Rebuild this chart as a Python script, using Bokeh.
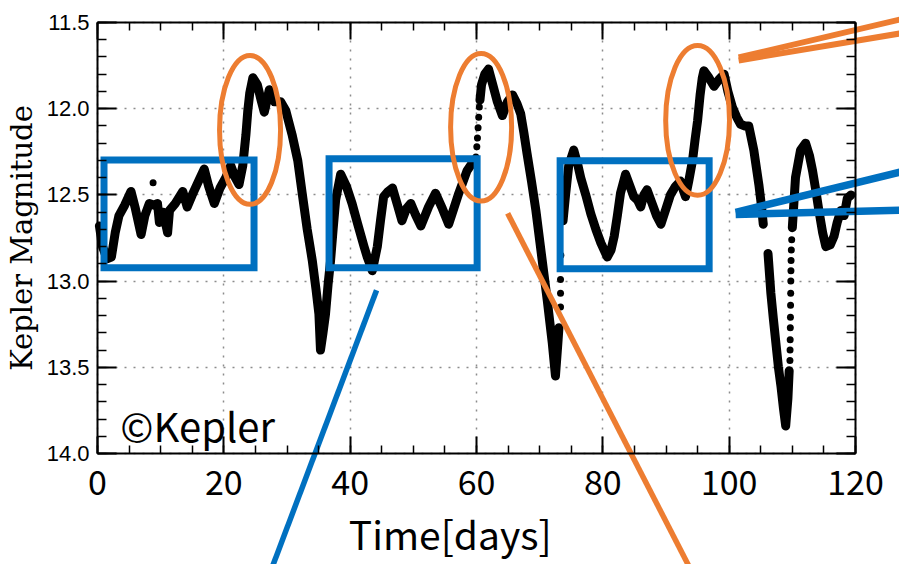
from bokeh.plotting import figure
from bokeh.models import (Range1d, FixedTicker, LinearAxis, Label, Grid, PrintfTickFormatter,
                          CustomJSTickFormatter)
from bokeh.embed import file_html
from bokeh.resources import INLINE

NAN = float("nan")

# ---- light curve (days, Kepler magnitude) ----
seg1_t = [0.3, 0.8, 1.5, 2.2, 2.8, 3.4, 4.3, 5.3, 6.0, 6.9, 7.5, 8.2, 9.0, 9.5, 9.8, 10.4, 11.1, 11.4,
          12.3, 13.5, 14.2, 15.0, 16.0, 16.9, 17.6, 18.5, 19.4, 20.3, 21.1, 21.8, 22.4, 23.0, 23.5,
          23.8, 24.1, 24.6, 25.3, 25.9, 26.4, 27.2, 28.0, 29.0, 29.8, 30.8, 31.7, 32.4, 33.2, 34.0,
          34.6, 35.05, 35.3, 35.7, 36.1, 36.5, 36.9, 37.3, 37.7, 38.5, 39.4, 40.3, 41.2, 42.2, 42.7,
          43.5, 44.3, 44.8, 45.3, 46.0, 46.7, 47.5, 48.2, 48.9, 49.6, 50.4, 51.2, 52.4, 53.5, 54.6,
          55.6, 56.4, 57.2, 58.5, 59.6]
seg1_m = [12.68, 12.80, 12.87, 12.86, 12.72, 12.62, 12.56, 12.48, 12.58, 12.73, 12.62, 12.55, 12.56,
          12.55, 12.66, 12.60, 12.72, 12.59, 12.55, 12.48, 12.57, 12.50, 12.42, 12.35, 12.45, 12.55,
          12.46, 12.40, 12.33, 12.40, 12.44, 12.33, 12.15, 12.01, 11.91, 11.82, 11.86, 11.95, 12.02,
          11.89, 11.96, 11.96, 12.01, 12.15, 12.30, 12.49, 12.70, 12.88, 13.05, 13.19, 13.40, 13.30,
          13.19, 13.02, 12.88, 12.70, 12.53, 12.38, 12.45, 12.55, 12.67, 12.80, 12.86, 12.94, 12.80,
          12.65, 12.51, 12.48, 12.46, 12.56, 12.65, 12.58, 12.55, 12.62, 12.68, 12.57, 12.49, 12.58,
          12.67, 12.58, 12.49, 12.36, 12.30]
seg2_t = [60.55, 60.8, 61.3, 61.9, 62.5, 63.3, 64.1, 64.9, 65.7, 66.4, 67.0, 67.5, 68.0, 68.7, 69.4,
          70.4, 71.2, 72.0, 72.5, 72.9, 73.05]
seg2_m = [11.95, 11.86, 11.80, 11.77, 11.85, 11.96, 12.04, 11.96, 11.92, 11.97, 12.03, 12.14, 12.26,
          12.42, 12.59, 12.88, 13.11, 13.36, 13.55, 13.35, 13.27]
seg3_t = [73.7, 74.1, 74.6, 75.4, 76.0, 76.5, 77.3, 78.1, 78.9, 79.7, 80.7, 81.3, 81.8, 82.3, 82.8,
          83.6, 84.3, 84.9, 85.5, 86.0, 86.5, 87.0, 87.8, 88.5, 89.2, 90.0, 90.7, 91.5, 92.3, 92.8,
          93.1, 93.6, 94.2, 94.6, 95.0, 95.4, 95.75, 96.0, 96.8, 97.6, 98.4, 99.2, 99.8, 100.5,
          101.2, 101.8, 102.5, 103.1, 103.5, 103.9, 104.3, 104.7, 105.1, 105.4]
seg3_m = [12.65, 12.50, 12.33, 12.24, 12.32, 12.40, 12.50, 12.61, 12.70, 12.78, 12.86, 12.82, 12.74,
          12.62, 12.49, 12.38, 12.45, 12.51, 12.53, 12.57, 12.50, 12.47, 12.55, 12.62, 12.67, 12.58,
          12.50, 12.45, 12.42, 12.48, 12.51, 12.42, 12.30, 12.18, 12.07, 11.92, 11.82, 11.78, 11.82,
          11.87, 11.83, 11.80, 11.90, 11.99, 12.05, 12.09, 12.10, 12.10, 12.17, 12.24, 12.34, 12.44,
          12.56, 12.67]
seg4_t = [106.15, 106.6, 107.0, 107.4, 107.8, 108.2, 108.6, 108.95, 109.3, 109.5]
seg4_m = [12.84, 13.07, 13.22, 13.36, 13.50, 13.61, 13.74, 13.84, 13.68, 13.52]
seg5_t = [110.0, 110.5, 111.3, 112.1, 112.7, 113.2, 113.7, 114.2, 114.8, 115.3, 116.0, 116.6, 117.1,
          117.7, 118.2, 118.7, 119.3]
seg5_m = [12.69, 12.40, 12.24, 12.20, 12.27, 12.36, 12.47, 12.59, 12.72, 12.80, 12.79, 12.74, 12.66,
          12.59, 12.62, 12.52, 12.50]

# sparse single points (isolated dots)
dots_t = [8.8, 59.9, 60.05, 60.15, 60.25, 60.35, 60.45, 73.3, 73.3, 73.3, 73.35,
          109.62, 109.64, 109.66, 109.68, 109.7, 109.72, 109.74, 109.76, 109.78, 109.8, 109.84, 109.9]
dots_m = [12.43, 12.28, 12.22, 12.17, 12.11, 12.05, 11.99, 13.15, 13.07, 12.99, 12.85,
          13.46, 13.40, 13.34, 13.27, 13.21, 13.14, 13.07, 13.00, 12.94, 12.88, 12.82, 12.76]

# ---- axes ----
x_lim = (0, 120)
y_lim = (11.5, 14.0)
x_major = [0, 20, 40, 60, 80, 100, 120]
x_minor = [0, 5, 10, 15, 20, 25, 30, 35, 40, 45, 50, 55, 60, 65, 70, 75, 80, 85, 90, 95, 100, 105,
           110, 115, 120]
y_major = [11.5, 12.0, 12.5, 13.0, 13.5, 14.0]
y_minor = [11.5, 11.6, 11.7, 11.8, 11.9, 12.0, 12.1, 12.2, 12.3, 12.4, 12.5, 12.6, 12.7, 12.8, 12.9,
           13.0, 13.1, 13.2, 13.3, 13.4, 13.5, 13.6, 13.7, 13.8, 13.9, 14.0]
x_title = "Time[days]"
y_title = "Kepler Magnitude"
credit = "©Kepler"

# ---- overlay annotations (data coordinates) ----
box_left = [1.03, 36.66, 73.24]
box_right = [24.78, 60.1, 96.83]
box_top = [12.297, 12.291, 12.302]
box_bottom = [12.922, 12.922, 12.928]

ell_x = [24.15, 60.73, 95.0]
ell_y = [12.123, 12.108, 12.068]
ell_w = [9.66, 9.66, 10.1]
ell_h = [0.863, 0.857, 0.869]

BLUE = "#0070C0"
ORANGE = "#ED7D31"
call_x0 = [44.18, 64.93, 101.5, 101.5, 101.03, 101.03]
call_y0 = [13.053, 12.607, 11.703, 11.72, 12.601, 12.613]
call_x1 = [26.9, 94.74, 128.74, 128.74, 128.74, 128.74]
call_y1 = [14.733, 14.733, 11.468, 11.553, 12.353, 12.587]
call_col = [BLUE, ORANGE, ORANGE, ORANGE, BLUE, BLUE]
call_w = [5.5, 5.5, 6, 6, 7.5, 7.5]

t_all = seg1_t + [NAN] + seg2_t + [NAN] + seg3_t + [NAN] + seg4_t + [NAN] + seg5_t
m_all = seg1_m + [NAN] + seg2_m + [NAN] + seg3_m + [NAN] + seg4_m + [NAN] + seg5_m

# canvas layout: plot box from x=97..855 px, y=22..453 px on a 899x564 canvas
W, H = 899, 564
L, R, T, B = 97, 855, 22, 453
sx = (R - L) / (x_lim[1] - x_lim[0])
sy = (B - T) / (y_lim[1] - y_lim[0])
x_range = Range1d(x_lim[0] - L / sx, x_lim[1] + (W - R) / sx)
y_range = Range1d(y_lim[1] + (H - B) / sy, y_lim[0] - T / sy)

p = figure(width=W, height=H, output_backend="svg", toolbar_location=None,
           x_range=x_range, y_range=y_range,
           x_axis_location=None, y_axis_location=None, min_border=0)
p.min_border_left = p.min_border_right = p.min_border_top = p.min_border_bottom = 0
p.center = [r for r in p.center if not isinstance(r, Grid)]   # drop default full-canvas grids
p.outline_line_color = None
p.background_fill_color = "white"
p.border_fill_color = "white"


def style_axis(ax, major_in, minor_in):
    ax.axis_line_width = 2
    ax.axis_line_color = "black"
    ax.major_tick_in = major_in
    ax.major_tick_out = 0
    ax.minor_tick_in = minor_in
    ax.minor_tick_out = 0
    ax.major_tick_line_width = 2
    ax.minor_tick_line_width = 1.5
    ax.major_tick_line_color = "black"
    ax.minor_tick_line_color = "black"


blank = CustomJSTickFormatter(code="return ''")

# dotted grid, limited to the plot box
has_cross = "cross_bounds" in Grid.properties()
for dim, ticks in ((0, x_major), (1, y_major)):
    g = Grid(dimension=dim, ticker=FixedTicker(ticks=ticks))
    g.bounds = x_lim if dim == 0 else y_lim
    if has_cross:
        g.cross_bounds = y_lim if dim == 0 else x_lim
    g.grid_line_color = "#8c8c8c" if has_cross else None
    g.grid_line_width = 1.5
    g.grid_line_dash = "2 7"
    p.add_layout(g)
if not has_cross:
    p.segment(x0=x_major, y0=[y_lim[0]] * len(x_major), x1=x_major, y1=[y_lim[1]] * len(x_major),
              line_color="#8c8c8c", line_width=1.5, line_dash="2 7")
    p.segment(x0=[x_lim[0]] * len(y_major), y0=y_major, x1=[x_lim[1]] * len(y_major), y1=y_major,
              line_color="#8c8c8c", line_width=1.5, line_dash="2 7")

xb = LinearAxis(ticker=FixedTicker(ticks=x_major, minor_ticks=x_minor),
                fixed_location=y_lim[1], bounds=x_lim)
style_axis(xb, 17, 8)
xb.major_label_text_font = "Noto Sans CJK JP"
xb.major_label_text_font_size = "34px"
xb.major_label_text_color = "black"
xb.major_label_standoff = 16
xb.axis_label = x_title + "\u00a0" * 6
xb.axis_label_text_font = "Noto Sans CJK JP"
xb.axis_label_text_font_size = "39px"
xb.axis_label_text_font_style = "normal"
xb.axis_label_text_color = "black"
xb.axis_label_standoff = 7
p.add_layout(xb, "below")

xt = LinearAxis(ticker=FixedTicker(ticks=x_major, minor_ticks=x_minor), formatter=blank,
                fixed_location=y_lim[0], bounds=x_lim)
style_axis(xt, 17, 8)
xt.major_label_standoff = 0
p.add_layout(xt, "above")

yl = LinearAxis(ticker=FixedTicker(ticks=y_major, minor_ticks=y_minor),
                formatter=PrintfTickFormatter(format="%.1f"),
                fixed_location=x_lim[0], bounds=y_lim)
style_axis(yl, 19, 9)
yl.major_label_text_font = "Liberation Sans"
yl.major_label_text_font_size = "22px"
yl.major_label_text_color = "black"
yl.major_label_standoff = 8
yl.axis_label = y_title
yl.axis_label_text_font = "DejaVu Serif"
yl.axis_label_text_font_size = "29px"
yl.axis_label_text_font_style = "normal"
yl.axis_label_text_color = "black"
yl.axis_label_standoff = 5
p.add_layout(yl, "left")

yr = LinearAxis(ticker=FixedTicker(ticks=y_major, minor_ticks=y_minor), formatter=blank,
                fixed_location=x_lim[1], bounds=y_lim)
style_axis(yr, 19, 9)
yr.major_label_standoff = 0
p.add_layout(yr, "right")

# light curve
p.line(t_all, m_all, line_color="black", line_width=9, line_join="round", line_cap="round")
p.scatter(dots_t, dots_m, size=7, fill_color="black", line_color=None)

# overlays
p.quad(left=box_left, right=box_right, top=box_top, bottom=box_bottom,
       fill_color=None, line_color=BLUE, line_width=7, line_join="miter")
p.ellipse(x=ell_x, y=ell_y, width=ell_w, height=ell_h, fill_color=None,
          line_color=ORANGE, line_width=5)
p.segment(x0=call_x0, y0=call_y0, x1=call_x1, y1=call_y1, line_color=call_col, line_width=call_w)

p.add_layout(Label(x=3.6, y=13.835, text=credit, text_font="Noto Sans CJK JP",
                   text_font_size="40px", text_color="black", text_baseline="alphabetic"))

open("out.html", "w").write(file_html(p, INLINE))
